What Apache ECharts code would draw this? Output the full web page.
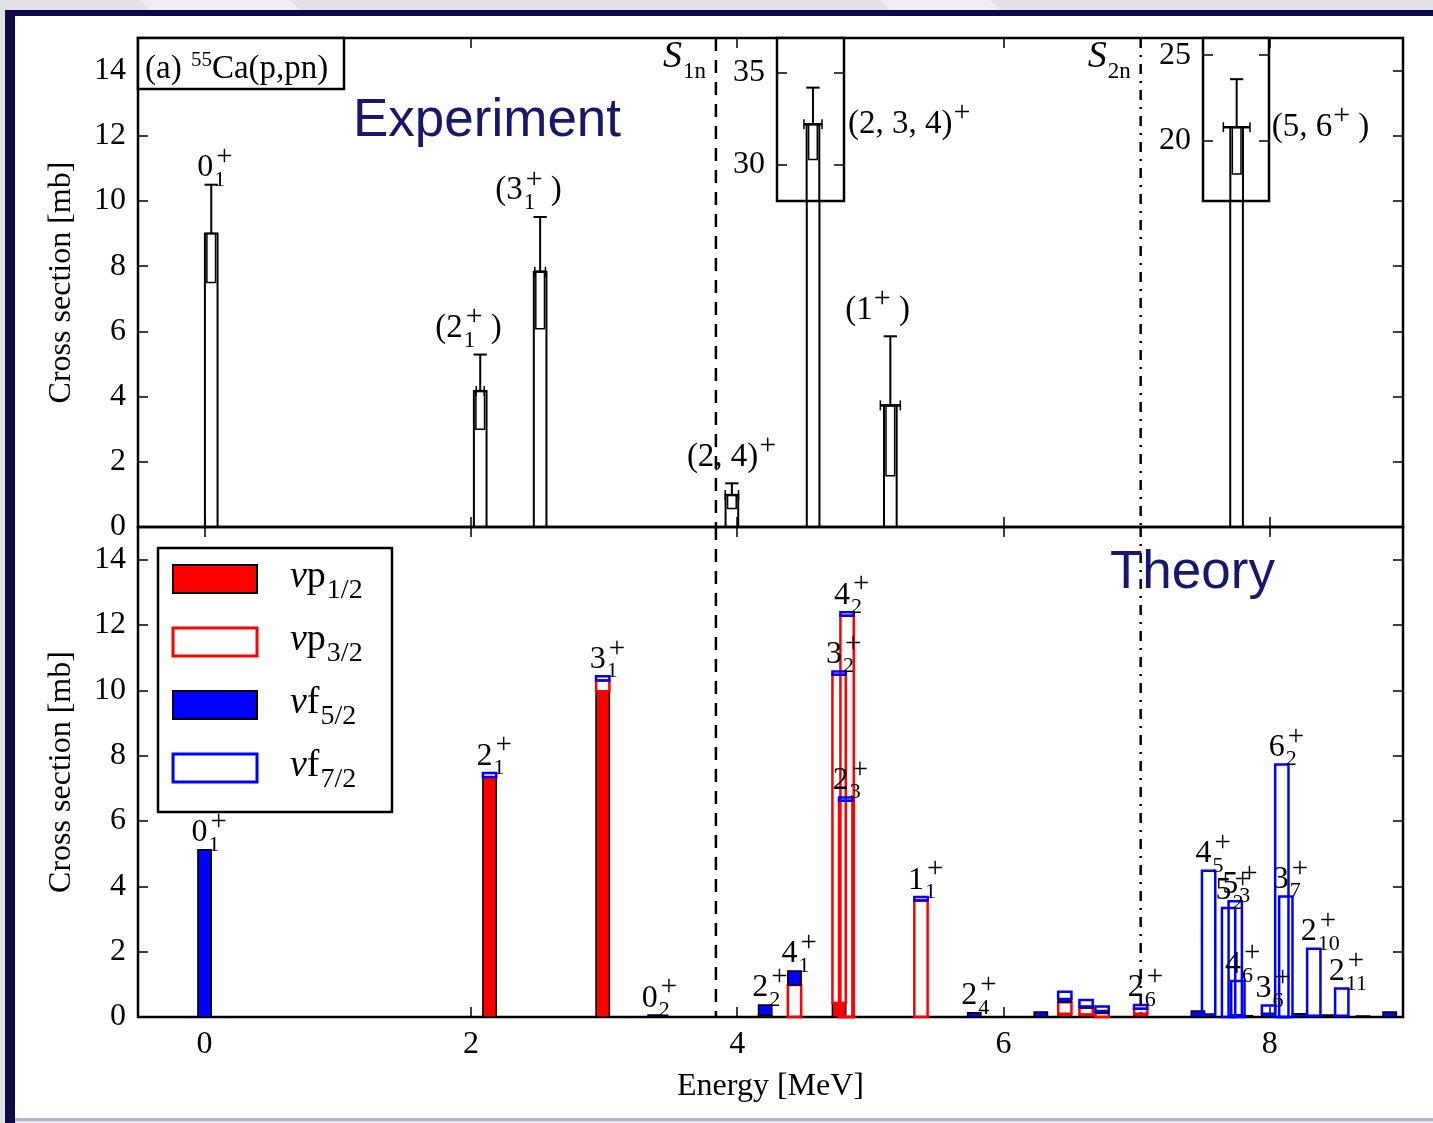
<!DOCTYPE html>
<html>
<head>
<meta charset="utf-8">
<title>55Ca(p,pn) cross sections</title>
<script src="https://cdn.jsdelivr.net/npm/echarts@6/dist/echarts.min.js"></script>
<style>
  html, body { margin: 0; padding: 0; background: #fff; }
  #chart { width: 1433px; height: 1123px; }
</style>
</head>
<body>
<div id="chart"></div>
<script>
// ---------------- measured states (55Ca(p,pn)54Ca) ----------------
const expLabel     = ['0_{1}^{+}', '(2_{1}^{+} )', '(3_{1}^{+} )', '(2, 4)^{+}', '(2, 3, 4)^{+}', '(1^{+} )', '(5, 6^{+} )'];
const expEnergy    = [0.05, 2.07, 2.52, 3.96, 4.57, 5.15, 7.75];     // MeV
const expSigma     = [9.0, 4.17, 7.83, 0.98, 32.19, 3.73, 20.8];     // mb
const expErrUp     = [1.5, 1.12, 1.68, 0.36, 2.0, 2.12, 2.8];
const expErrDown   = [1.5, 1.17, 1.75, 0.41, 1.92, 2.16, 2.73];
const expEnergyErr = [0, 0.03, 0.04, 0.05, 0.068, 0.075, 0.1];
const expInset     = [-1, -1, -1, -1, 0, -1, 1];                     // broken-axis box holding the value

// broken-axis boxes for the two strong states
const insetEnergyRange = [[4.30, 4.803], [7.497, 7.993]];
const insetSigmaRange  = [[28, 36.9], [16.5, 26]];
const insetTicks       = [[30, 35], [20, 25]];
const INSET_FLOOR = 10;   // main-panel value where the boxes start

// separation energies
const thresholdLabel  = ['*S*_{1n}', '*S*_{2n}'];
const thresholdEnergy = [3.84, 7.03];

// ---------------- shell-model states, split by neutron orbital ----------------
const thSpin  = ['0','2','3','0','2','4','3','2','4','1','2','','','','','2','','4','5','5','4','','3','6','3','','2','','2','',''];
const thIndex = ['1','1','1','2','2','1','2','3','2','1','4','','','','','6','','5','2','3','6','','6','2','7','','10','','11','',''];
const thEnergy = [0.00, 2.14, 2.99, 3.38, 4.21, 4.43, 4.765, 4.815, 4.825, 5.38, 5.78, 6.28, 6.46, 6.62, 6.74, 7.03,
                  7.46, 7.54, 7.69, 7.74, 7.76, 7.82, 7.99, 8.09, 8.12, 8.22, 8.33, 8.43, 8.54, 8.70, 8.90];
const thP12 = [0, 7.35, 9.97, 0, 0.05, 0, 0.43, 0, 0, 0, 0, 0, 0.10, 0.08, 0, 0.10,
               0, 0, 0, 0, 0, 0, 0, 0, 0, 0, 0, 0, 0, 0, 0];
const thP32 = [0, 0, 0.33, 0, 0, 0.98, 10.05, 6.62, 12.28, 3.57, 0, 0, 0.35, 0.20, 0.12, 0.15,
               0, 0, 0, 0, 0, 0, 0, 0, 0, 0, 0, 0, 0, 0, 0];
const thF52 = [5.12, 0, 0, 0.06, 0.32, 0.43, 0, 0, 0, 0, 0.13, 0.15, 0.10, 0.04, 0.06, 0,
               0.18, 0.08, 0, 0.05, 0, 0.04, 0.10, 0, 0, 0.10, 0.04, 0.06, 0.04, 0.03, 0.15];
const thF72 = [0, 0.12, 0.13, 0, 0, 0, 0.10, 0.10, 0.11, 0.10, 0, 0, 0.22, 0.20, 0.14, 0.12,
               0, 4.40, 3.34, 3.49, 1.10, 0, 0.25, 7.73, 3.69, 0, 2.05, 0, 0.83, 0, 0];

const orbitals = [
  { name: '*ν*p_{1/2}', values: thP12, fill: '#ff0000', stroke: '#000000', lw: 1.5, swatchFill: '#ff0000' },
  { name: '*ν*p_{3/2}', values: thP32, fill: 'none',    stroke: '#ff0000', lw: 2.5, swatchFill: '#ffffff' },
  { name: '*ν*f_{5/2}', values: thF52, fill: '#0000ff', stroke: '#000000', lw: 1.5, swatchFill: '#0000ff' },
  { name: '*ν*f_{7/2}', values: thF72, fill: 'none',    stroke: '#0000ff', lw: 2.5, swatchFill: '#ffffff' }
];

// axes
const energyTicks = [0, 2, 4, 6, 8];
const sigmaTicks  = [0, 2, 4, 6, 8, 10, 12, 14];
const E_MIN = -0.5, E_MAX = 9.0, S_MAX = 15;

// ---------------- drawing helpers ----------------
const SERIF = '"Liberation Serif", "Times New Roman", serif';
const SANS  = '"Liberation Sans", Arial, sans-serif';
const EXP_W = 0.095, INNER_W = 0.065, CAP_W = 0.1, TH_W = 0.1;
const measureCtx = document.createElement('canvas').getContext('2d');

function fontStr(size, italic, family) { return (italic ? 'italic ' : '') + size + 'px ' + (family || SERIF); }
function textWidth(t, font) { measureCtx.font = font; return measureCtx.measureText(t).width; }
function textEl(t, x, base, size, italic, color, family, z) {
  const font = fontStr(size, italic, family);
  return { type: 'text', silent: true, z: z || 20, style: {
    text: t, x: x, y: base - 0.34 * size, font: font, fill: color, textFill: color,
    align: 'left', textAlign: 'left', verticalAlign: 'middle', textVerticalAlign: 'middle' } };
}
// tiny TeX-like markup: *italic*, _{sub}, ^{sup}; a sub directly followed by a sup is stacked
function parseTex(s) {
  const out = []; let buf = ''; let i = 0;
  const flush = () => { if (buf) { out.push({ k: 'n', t: buf }); buf = ''; } };
  while (i < s.length) {
    const c = s[i];
    if ((c === '_' || c === '^') && s[i + 1] === '{') {
      flush();
      const j = s.indexOf('}', i);
      const t = s.slice(i + 2, j);
      const last = out[out.length - 1];
      if (c === '^' && last && last.k === 's' && last.sup == null && i === last.end) last.sup = t;
      else out.push({ k: 's', sub: c === '_' ? t : null, sup: c === '^' ? t : null });
      out[out.length - 1].end = j + 1;
      i = j + 1;
    } else if (c === '*') {
      flush();
      const j = s.indexOf('*', i + 1);
      out.push({ k: 'n', t: s.slice(i + 1, j), it: true });
      i = j + 1;
    } else { buf += c; i++; }
  }
  flush();
  return out;
}
function texGroup(s, x, base, size, opt) {
  opt = opt || {};
  const color = opt.color || '#000';
  const family = opt.family || SERIF;
  const z = opt.z || 20;
  const ss = opt.subSize || Math.round(size * 0.68);
  const plusSize = Math.round(ss * 1.3);            // math "+" is drawn a bit larger
  const supSize = t => (t === '+' ? plusSize : ss);
  const frags = parseTex(s);
  const widths = frags.map(f => {
    if (f.k === 'n') return textWidth(f.t, fontStr(size, f.it, family));
    const w1 = f.sub ? textWidth(f.sub, fontStr(ss, false, family)) : 0;
    const w2 = f.sup ? textWidth(f.sup, fontStr(supSize(f.sup), false, family)) + (f.sub ? 2 : 0) : 0;
    return Math.max(w1, w2) + 1;
  });
  const total = widths.reduce((a, b) => a + b, 0);
  let cx = x - (opt.align === 'center' ? total / 2 : opt.align === 'right' ? total : 0);
  const children = [];
  frags.forEach((f, i) => {
    if (f.k === 'n') children.push(textEl(f.t, cx, base, size, f.it, color, family, z));
    else {
      if (f.sub) children.push(textEl(f.sub, cx + 1, base + 0.27 * size, ss, false, color, family, z));
      if (f.sup) {
        const sz = supSize(f.sup);
        const rise = f.sup === '+' ? 0.36 * size : 0.42 * size;
        children.push(textEl(f.sup, cx + 1 + (f.sub ? 2 : 0), base - rise, sz, false, color, family, z));
      }
    }
    cx += widths[i];
  });
  return { type: 'group', children: children };
}
function rectEl(a, b, fill, stroke, lw, z) {
  return { type: 'rect', z: z || 5,
    shape: { x: Math.min(a[0], b[0]), y: Math.min(a[1], b[1]), width: Math.abs(b[0] - a[0]), height: Math.abs(b[1] - a[1]) },
    style: { fill: fill, stroke: stroke, lineWidth: lw } };
}
function lineEl(x1, y1, x2, y2, lw, dash) {
  return { type: 'line', z: 6, shape: { x1: x1, y1: y1, x2: x2, y2: y2 },
    style: { stroke: '#000', lineWidth: lw, lineDash: dash || null } };
}

// one measured state: open bar, stat. box, error bar, energy error, spin label
function expItem(i, api, inset) {
  const e = expEnergy[i], s = expSigma[i];
  const broken = expInset[i] >= 0;
  const yTop = inset ? s : (broken ? INSET_FLOOR : s);
  const yBot = inset ? insetSigmaRange[expInset[i]][0] : 0;
  const kids = [rectEl(api.coord([e - EXP_W / 2, yTop]), api.coord([e + EXP_W / 2, yBot]), 'none', '#000', 2)];
  if (broken && !inset) return { type: 'group', children: kids };
  const lo = s - expErrDown[i], hi = s + expErrUp[i];
  kids.push(rectEl(api.coord([e - INNER_W / 2, s]), api.coord([e + INNER_W / 2, lo]), 'none', '#000', 1.5));
  const p = api.coord([e, s]), q = api.coord([e, hi]);
  kids.push(lineEl(p[0], p[1], q[0], q[1], 2));
  const c1 = api.coord([e - CAP_W / 2, hi]), c2 = api.coord([e + CAP_W / 2, hi]);
  kids.push(lineEl(c1[0], c1[1], c2[0], c2[1], 2));
  if (expEnergyErr[i] > 0) {
    const h1 = api.coord([e - expEnergyErr[i], s]), h2 = api.coord([e + expEnergyErr[i], s]);
    kids.push(lineEl(h1[0], h1[1], h2[0], h2[1], 2.5));
    kids.push(lineEl(h1[0], h1[1] - 5, h1[0], h1[1] + 5, 1.5));
    kids.push(lineEl(h2[0], h2[1] - 5, h2[0], h2[1] + 5, 1.5));
  }
  const lab = expLabel[i];
  if (inset) kids.push(texGroup(lab, p[0] + 35, p[1] + 11, 33, { subSize: 23 }));
  else {
    const paren = lab[0] === '(';
    kids.push(texGroup(lab, p[0] + (paren ? -45 : -14), q[1] - (paren ? 15 : 6), paren ? 33 : 32, { subSize: paren ? 23 : 22 }));
  }
  return { type: 'group', children: kids };
}

// ---------------- series ----------------
const series = [];

// measured bars in the main panel
series.push({
  type: 'custom', xAxisIndex: 0, yAxisIndex: 0, z: 3,
  data: expEnergy.map((e, i) => [e, expSigma[i], i]),
  renderItem: (params, api) => expItem(api.value(2), api, false)
});
// measured bars inside the broken-axis boxes
[0, 1].forEach(k => {
  series.push({
    type: 'custom', xAxisIndex: 4 + k, yAxisIndex: 4 + 2 * k, z: 4,
    data: expEnergy.map((e, i) => [e, expSigma[i], i]).filter(d => expInset[d[2]] === k),
    renderItem: (params, api) => expItem(api.value(2), api, true)
  });
});

// separation-energy markers in both panels
[0, 1].forEach(panel => {
  series.push({
    type: 'custom', xAxisIndex: panel === 0 ? 0 : 2, yAxisIndex: panel === 0 ? 0 : 2, z: 2,
    data: thresholdEnergy.map((e, i) => [e, i]),
    renderItem: (params, api) => {
      const i = api.value(1), e = api.value(0);
      const top = api.coord([e, S_MAX]), bot = api.coord([e, 0]);
      const dash = i === 0 ? [13, 9] : [10, 7, 2, 7];
      const kids = [lineEl(top[0], top[1], bot[0], bot[1], 2.5, dash)];
      if (panel === 0) kids.push(texGroup(thresholdLabel[i], top[0] - 10, top[1] + 32, 38, { align: 'right', subSize: 23 }));
      return { type: 'group', children: kids };
    }
  });
});

// stacked orbital contributions of the shell-model states
orbitals.forEach((orb, ci) => {
  const data = [];
  thEnergy.forEach((e, i) => {
    let base = 0;
    for (let k = 0; k < ci; k++) base += orbitals[k].values[i];
    if (orb.values[i] > 0) data.push([e, base, base + orb.values[i]]);
  });
  series.push({
    type: 'custom', name: orb.name, xAxisIndex: 2, yAxisIndex: 2, z: 3 + ci,
    data: data,
    renderItem: (params, api) => {
      const e = api.value(0), b = api.value(1), t = api.value(2);
      return rectEl(api.coord([e - TH_W / 2, t]), api.coord([e + TH_W / 2, b]), orb.fill, orb.stroke, orb.lw, 5 + ci);
    }
  });
});

// spin labels of the shell-model states
series.push({
  type: 'custom', xAxisIndex: 2, yAxisIndex: 2, z: 10,
  data: thEnergy.map((e, i) => [e, thP12[i] + thP32[i] + thF52[i] + thF72[i], i]).filter(d => thSpin[d[2]] !== ''),
  renderItem: (params, api) => {
    const i = api.value(2);
    const p = api.coord([api.value(0), api.value(1)]);
    return texGroup(thSpin[i] + '_{' + thIndex[i] + '}^{+}', p[0] - 13, p[1] - 6, 32, { subSize: 22 });
  }
});

// ---------------- axes ----------------
const tickFont = { fontFamily: 'Liberation Serif', fontSize: 32, color: '#000' };
const tickStyle = { color: '#000', width: 1.5 };
function xAx(grid, pos, labels, extra) {
  return Object.assign({
    type: 'value', gridIndex: grid, position: pos, min: E_MIN, max: E_MAX,
    axisLine: { show: false, onZero: false }, splitLine: { show: false },
    axisTick: { show: true, inside: true, length: 10, lineStyle: tickStyle, customValues: energyTicks },
    axisLabel: Object.assign({ show: labels, margin: 12, customValues: energyTicks }, tickFont)
  }, extra || {});
}
function yAx(grid, pos, labels, extra) {
  return Object.assign({
    type: 'value', gridIndex: grid, position: pos, min: 0, max: S_MAX,
    axisLine: { show: false, onZero: false }, splitLine: { show: false },
    axisTick: { show: true, inside: true, length: 10, lineStyle: tickStyle, customValues: sigmaTicks },
    axisLabel: Object.assign({ show: labels, margin: 12, customValues: sigmaTicks }, tickFont)
  }, extra || {});
}
const nameStyle = { fontFamily: 'Liberation Serif', fontSize: 32, color: '#000' };
const xAxes = [
  xAx(0, 'bottom', false),
  xAx(0, 'top', false),
  xAx(1, 'bottom', true, { name: 'Energy [MeV]', nameLocation: 'middle', nameGap: 54, nameTextStyle: nameStyle }),
  xAx(1, 'top', false)
];
const yAxes = [
  yAx(0, 'left', true, { name: 'Cross section [mb]', nameLocation: 'middle', nameGap: 60, nameTextStyle: nameStyle }),
  yAx(0, 'right', false),
  yAx(1, 'left', true, { name: 'Cross section [mb]', nameLocation: 'middle', nameGap: 60, nameTextStyle: nameStyle }),
  yAx(1, 'right', false)
];
[0, 1].forEach(k => {
  xAxes.push({ type: 'value', gridIndex: 2 + k, min: insetEnergyRange[k][0], max: insetEnergyRange[k][1], show: false,
    axisLine: { onZero: false } });
  ['left', 'right'].forEach(pos => {
    yAxes.push({
      type: 'value', gridIndex: 2 + k, position: pos, min: insetSigmaRange[k][0], max: insetSigmaRange[k][1],
      axisLine: { show: false, onZero: false }, splitLine: { show: false },
      axisTick: { show: true, inside: true, length: 10, lineStyle: tickStyle, customValues: insetTicks[k] },
      axisLabel: Object.assign({ show: pos === 'left', margin: 12, customValues: insetTicks[k] }, tickFont)
    });
  });
});

// ---------------- annotations ----------------
const graphics = [
  // slide frame
  { type: 'rect', shape: { x: 0, y: 0, width: 1433, height: 10 }, style: { fill: '#e2e2e6' }, z: 1 },
  { type: 'polygon', shape: { points: [[140, 0], [290, 0], [300, 10], [150, 10]] }, style: { fill: '#efeff2' }, z: 1 },
  { type: 'polygon', shape: { points: [[880, 0], [990, 0], [1000, 10], [890, 10]] }, style: { fill: '#efeff2' }, z: 1 },
  { type: 'rect', shape: { x: 0, y: 0, width: 5, height: 1123 }, style: { fill: '#e2e2e6' }, z: 1 },
  { type: 'rect', shape: { x: 5, y: 10, width: 1428, height: 6 }, style: { fill: '#0b0b4a' }, z: 1 },
  { type: 'rect', shape: { x: 5, y: 10, width: 10, height: 1113 }, style: { fill: '#0b0b4a' }, z: 1 },
  { type: 'rect', shape: { x: 15, y: 1118, width: 1418, height: 3 }, style: { fill: '#b2b2d2' }, z: 1 },
  { type: 'rect', shape: { x: 15, y: 1121, width: 1418, height: 2 }, style: { fill: '#e6e6ea' }, z: 1 },
  // panel tag
  { type: 'rect', shape: { x: 138, y: 38, width: 206, height: 51 }, style: { fill: '#fff', stroke: '#000', lineWidth: 2.5 }, z: 50 },
  texGroup('(a) ^{55}Ca(p,pn)', 145, 81, 33, { subSize: 21, z: 60 }),
  // panel titles
  texGroup('Experiment', 353, 139, 53, { family: SANS, color: '#17176c', z: 60 }),
  texGroup('Theory', 1110, 591, 53, { family: SANS, color: '#17176c', z: 60 }),
  // legend frame
  { type: 'rect', shape: { x: 158, y: 548, width: 234, height: 264 }, style: { fill: '#fff', stroke: '#000', lineWidth: 2.5 }, z: 50 }
];
orbitals.forEach((orb, k) => {
  const y0 = 565 + 63 * k;
  graphics.push({ type: 'rect', shape: { x: 173, y: y0, width: 84, height: 28 },
    style: { fill: orb.swatchFill, stroke: orb.stroke, lineWidth: orb.lw + 0.5 }, z: 55 });
  graphics.push(texGroup(orb.name, 290, y0 + 25, 38, { subSize: 28, z: 60 }));
});

const chart = echarts.init(document.getElementById('chart'), null, { renderer: 'canvas' });
chart.setOption({
  animation: false,
  backgroundColor: '#ffffff',
  grid: [
    { left: 138, top: 38, width: 1265, height: 489, show: true, borderColor: '#000', borderWidth: 2.5, backgroundColor: 'transparent' },
    { left: 138, top: 527, width: 1265, height: 490, show: true, borderColor: '#000', borderWidth: 2.5, backgroundColor: 'transparent' },
    { left: 777, top: 38, width: 67, height: 163, show: true, borderColor: '#000', borderWidth: 2.5, backgroundColor: '#fff' },
    { left: 1203, top: 38, width: 66, height: 163, show: true, borderColor: '#000', borderWidth: 2.5, backgroundColor: '#fff' }
  ],
  xAxis: xAxes,
  yAxis: yAxes,
  series: series,
  graphic: { elements: graphics }
});
</script>
</body>
</html>
